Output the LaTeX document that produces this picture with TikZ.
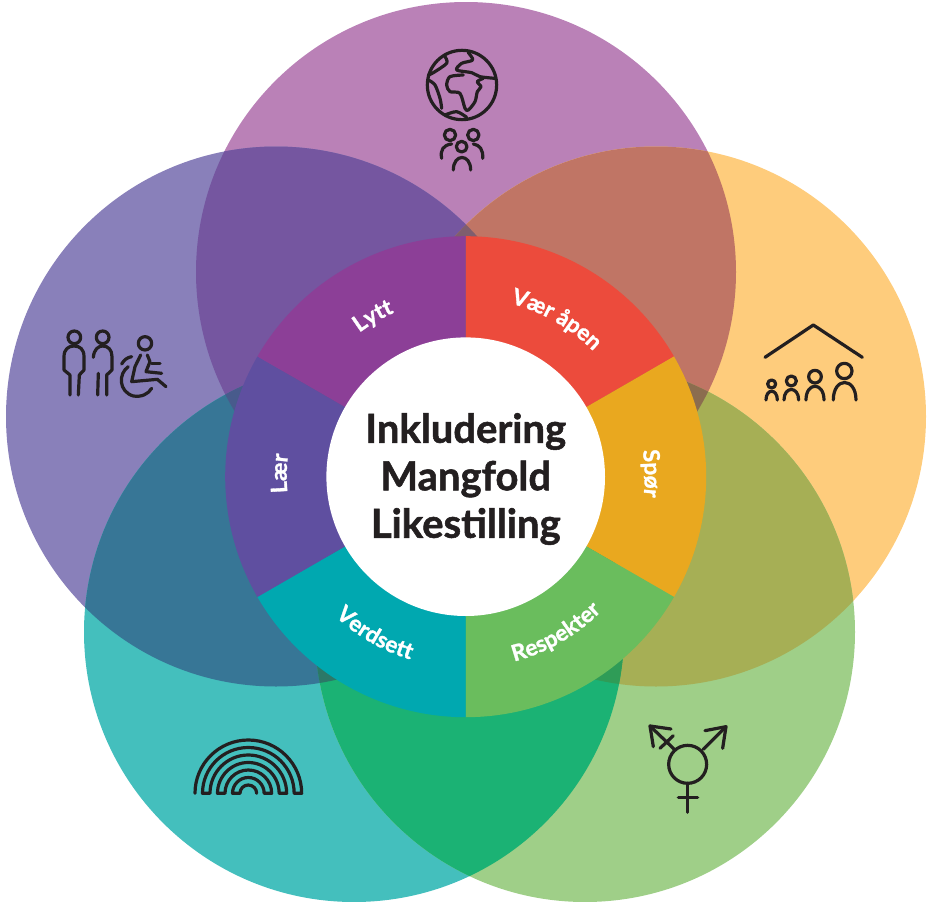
\documentclass[tikz,border=0pt]{standalone}
\usepackage{fontspec}
\usetikzlibrary{decorations.text}
\setmainfont{Lato}[BoldFeatures={FakeBold=1.3}]
\definecolor{topcol}{HTML}{BA81B7}
\definecolor{leftcol}{HTML}{8980BA}
\definecolor{rightcol}{HTML}{FECC7C}
\definecolor{lowlcol}{HTML}{44BFBD}
\definecolor{lowrcol}{HTML}{9FCF88}
\definecolor{tplf}{HTML}{7556A0}
\definecolor{tprg}{HTML}{C07565}
\definecolor{lfbl}{HTML}{377696}
\definecolor{rgbr}{HTML}{A6AF55}
\definecolor{blbr}{HTML}{1BB274}
\definecolor{tplfrg}{HTML}{7F5E6E}
\definecolor{tplfbl}{HTML}{485B8C}
\definecolor{tprgbr}{HTML}{8B6D4F}
\definecolor{lfblbr}{HTML}{2C7867}
\definecolor{rgblbr}{HTML}{2F9C57}
\definecolor{opencol}{HTML}{EC4B3C}
\definecolor{askcol}{HTML}{E9A81F}
\definecolor{respectcol}{HTML}{6ABD5D}
\definecolor{valuecol}{HTML}{00A8B0}
\definecolor{learncol}{HTML}{5F4FA0}
\definecolor{listencol}{HTML}{8C3F97}
\definecolor{inkcol}{HTML}{231F20}
\tikzset{icon/.style={draw=inkcol,line width=3.2pt,line cap=round,line join=round}}
\tikzset{iconat/.style 2 args={shift={(#1,#2)},x=0.3333pt,y=-0.3333pt}}
\newcommand{\petalfont}{\fontsize{22.5}{22.5}\selectfont\bfseries\color{white}}
\newcommand{\disc}[2]{\fill[#2] (#1) circle (270);}
\newcommand{\twofold}[3]{\begin{scope}\clip (#1) circle (270);\fill[#3] (#2) circle (270);\end{scope}}
\newcommand{\threefold}[4]{\begin{scope}\clip (#1) circle (270);\clip (#2) circle (270);\fill[#4] (#3) circle (270);\end{scope}}
\newcommand{\petaltext}[4]{\path[shift={(hub)},decorate,decoration={text along path,text align=center,text={|\petalfont|#4}}] (#2:#1) arc[start angle=#2,end angle=#3,radius=#1];}

\begin{document}
\begin{tikzpicture}[x=1pt,y=-1pt]
    \useasboundingbox (0,0) rectangle (930,902);

    \coordinate (tp) at (466,272);
    \coordinate (lf) at (276,416.5);
    \coordinate (rg) at (656,416.5);
    \coordinate (bl) at (354,632);
    \coordinate (br) at (585,632);
    \coordinate (hub) at (465.7,476.7);

    \disc{tp}{topcol}
    \disc{lf}{leftcol}
    \disc{rg}{rightcol}
    \disc{bl}{lowlcol}
    \disc{br}{lowrcol}

    \twofold{tp}{lf}{tplf}
    \twofold{tp}{rg}{tprg}
    \twofold{lf}{bl}{lfbl}
    \twofold{rg}{br}{rgbr}
    \twofold{bl}{br}{blbr}

    \threefold{tp}{lf}{rg}{tplfrg}
    \threefold{tp}{lf}{bl}{tplfbl}
    \threefold{tp}{rg}{br}{tprgbr}
    \threefold{lf}{bl}{br}{lfblbr}
    \threefold{rg}{bl}{br}{rgblbr}

    % wheel
    \foreach \from/\to/\col in {-90/-30/opencol,-30/30/askcol,30/90/respectcol,90/150/valuecol,150/210/learncol,210/270/listencol}{
        \fill[\col] (hub) -- ++(\from:240.5) arc[start angle=\from,end angle=\to,radius=240.5] -- cycle;
    }

    \node[circle,fill=white,minimum size=278.6pt,inner sep=0pt] (core) at (hub) {};
    \node[align=center,text=inkcol,inner sep=0pt,
          font=\fontsize{40}{47.5}\selectfont\bfseries] (title) at (465.7,479) {Inkludering\\Mangfold\\Likestilling};

    \petaltext{179}{-90}{-30}{Vær åpen}
    \petaltext{179}{-31}{29}{Spør}
    \petaltext{191}{90}{30}{Respekter}
    \petaltext{191}{150}{90}{Verdsett}
    \petaltext{179}{151}{211}{Lær}
    \petaltext{179}{210}{270}{Lytt}

    % globe and people
    \begin{scope}[iconat={400}{30}]
        \draw[icon] (186,165) circle (104);
        \draw[icon] plot[smooth] coordinates {(205,68) (218,90) (185,100) (170,120) (215,128) (240,140) (285,145)};
        \draw[icon] plot[smooth] coordinates {(190,135) (150,140) (140,165) (150,185) (180,190) (195,235) (205,240) (225,215) (232,185) (243,170) (232,155) (250,145)};
        \draw[icon] plot[smooth] coordinates {(135,80) (140,100) (100,128) (85,135)};
        \draw[icon] plot[smooth] coordinates {(85,150) (105,165) (120,205) (125,235)};
        \draw[icon] plot[smooth] coordinates {(135,255) (170,245) (200,262)};
        \draw[icon] (150,315) circle (17) (220,315) circle (17) (185,350) circle (16);
        \draw[icon] (125,385) .. controls (120,360) and (130,345) .. (155,342);
        \draw[icon] (248,385) .. controls (250,360) and (240,345) .. (220,342);
        \draw[icon] (160,420) .. controls (160,370) and (212,370) .. (212,420);
    \end{scope}

    % two people and wheelchair
    \begin{scope}[iconat={50}{320}]
        \draw[icon] (73,52) circle (19) (158,52) circle (19) (285,70) circle (20);
        \draw[icon] (60,225) -- (60,165) -- (42,150) -- (42,110) .. controls (42,88) and (55,78) .. (72,78) .. controls (90,78) and (102,88) .. (102,110) -- (102,150) -- (88,165) -- (85,225);
        \draw[icon] (130,112) .. controls (132,88) and (145,78) .. (158,78) .. controls (175,78) and (186,90) .. (186,110) -- (186,150) -- (170,165) -- (170,225);
        \draw[icon] (145,160) -- (143,225);
        \draw[icon] (272,105) -- (255,140) -- (245,185) -- (322,178) -- (348,200);
        \draw[icon] (292,105) -- (300,125) -- (288,155) -- (335,160);
        \draw[icon] (305,130) -- (330,130);
        \draw[icon] (235,140) .. controls (205,160) and (205,215) .. (250,228) .. controls (275,232) and (295,222) .. (305,205);
        \draw[icon] (215,132) .. controls (222,120) and (232,112) .. (245,110);
    \end{scope}

    % house and family
    \begin{scope}[iconat={750}{310}]
        \draw[icon] (45,142) -- (190,45) -- (337,142);
        \draw[icon] (65,222) circle (12) (124,213) circle (15) (195,200) circle (19) (283,183) circle (23);
        \draw[icon] (48,270) .. controls (48,235) and (82,235) .. (82,270);
        \draw[icon] (102,270) .. controls (102,228) and (146,228) .. (146,270);
        \draw[icon] (168,270) .. controls (168,215) and (222,215) .. (222,270);
        \draw[icon] (250,270) .. controls (250,200) and (318,200) .. (318,270);
    \end{scope}

    % rainbow
    \begin{scope}[iconat={180}{725}]
        \draw[icon] (45,205) arc[start angle=180,end angle=360,radius=160] -- ++(-22.5,0)
            arc[start angle=360,end angle=180,radius=137.5] -- ++(22.5,0)
            arc[start angle=180,end angle=360,radius=115] -- ++(-22.5,0)
            arc[start angle=360,end angle=180,radius=92.5] -- ++(22.5,0)
            arc[start angle=180,end angle=360,radius=70] -- ++(-22.5,0)
            arc[start angle=360,end angle=180,radius=47.5] -- ++(22.5,0)
            arc[start angle=180,end angle=360,radius=25];
    \end{scope}

    % gender symbol
    \begin{scope}[iconat={635}{715}]
        \draw[icon] (158,148) circle (57);
        \draw[icon] (158,205) -- (158,292);
        \draw[icon] (130,248) -- (188,248);
        \draw[icon] (205,103) -- (273,35);
        \draw[icon] (210,47) -- (273,35) -- (263,100);
        \draw[icon] (118,103) -- (45,33);
        \draw[icon] (108,42) -- (45,33) -- (55,95);
        \draw[icon] (75,100) -- (115,62);
    \end{scope}

\end{tikzpicture}
\end{document}
